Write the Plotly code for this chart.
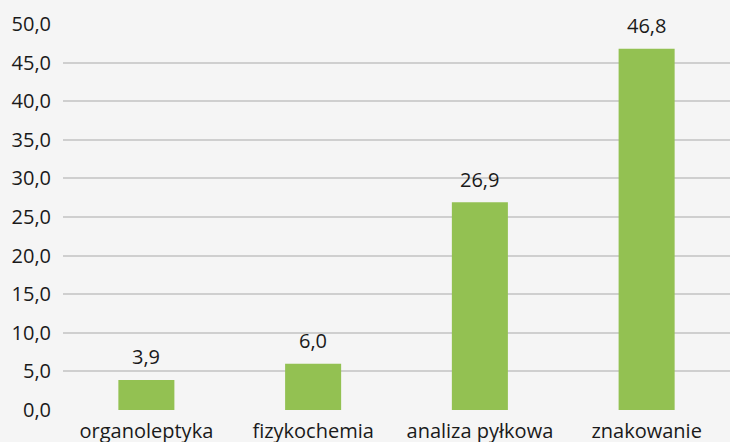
import plotly.graph_objects as go

categories = ["organoleptyka", "fizykochemia", "analiza pyłkowa", "znakowanie"]
values = [3.9, 6.0, 26.9, 46.8]
y_ticks = [0, 5, 10, 15, 20, 25, 30, 35, 40, 45, 50]

fig = go.Figure(go.Bar(
    x=categories, y=values,
    marker=dict(color="#93c152", line=dict(width=0)),
    hoverinfo="x+y",
))
for c, v in zip(categories, values):
    fig.add_annotation(x=c, y=v, text=f"{v:.1f}".replace(".", ","), showarrow=False,
                       yanchor="middle", yshift=23,
                       font=dict(size=20, color="#1a1a1a"))
fig.update_layout(
    width=730, height=442,
    margin=dict(l=63, r=0, t=24, b=32, autoexpand=False),
    paper_bgcolor="#f5f5f5", plot_bgcolor="#f5f5f5",
    separators=",.",
    bargap=0.664,
    font=dict(family="Open Sans", size=20, color="#1a1a1a"),
    showlegend=False,
)
fig.update_yaxes(range=[0, 50], tickvals=y_ticks, tickformat=".1f", automargin=False,
                 gridcolor="#cfcfcf", gridwidth=2, zeroline=False, showline=False,
                 ticks="", ticklabelstandoff=11, tickfont=dict(size=20))
fig.update_xaxes(showline=False, ticks="", tickfont=dict(size=20), automargin=False,
                 ticklabelstandoff=7)
fig.write_html("out.html", config={"displayModeBar": False},
               post_script="document.body.style.margin='0';document.body.style.overflow='hidden';")
